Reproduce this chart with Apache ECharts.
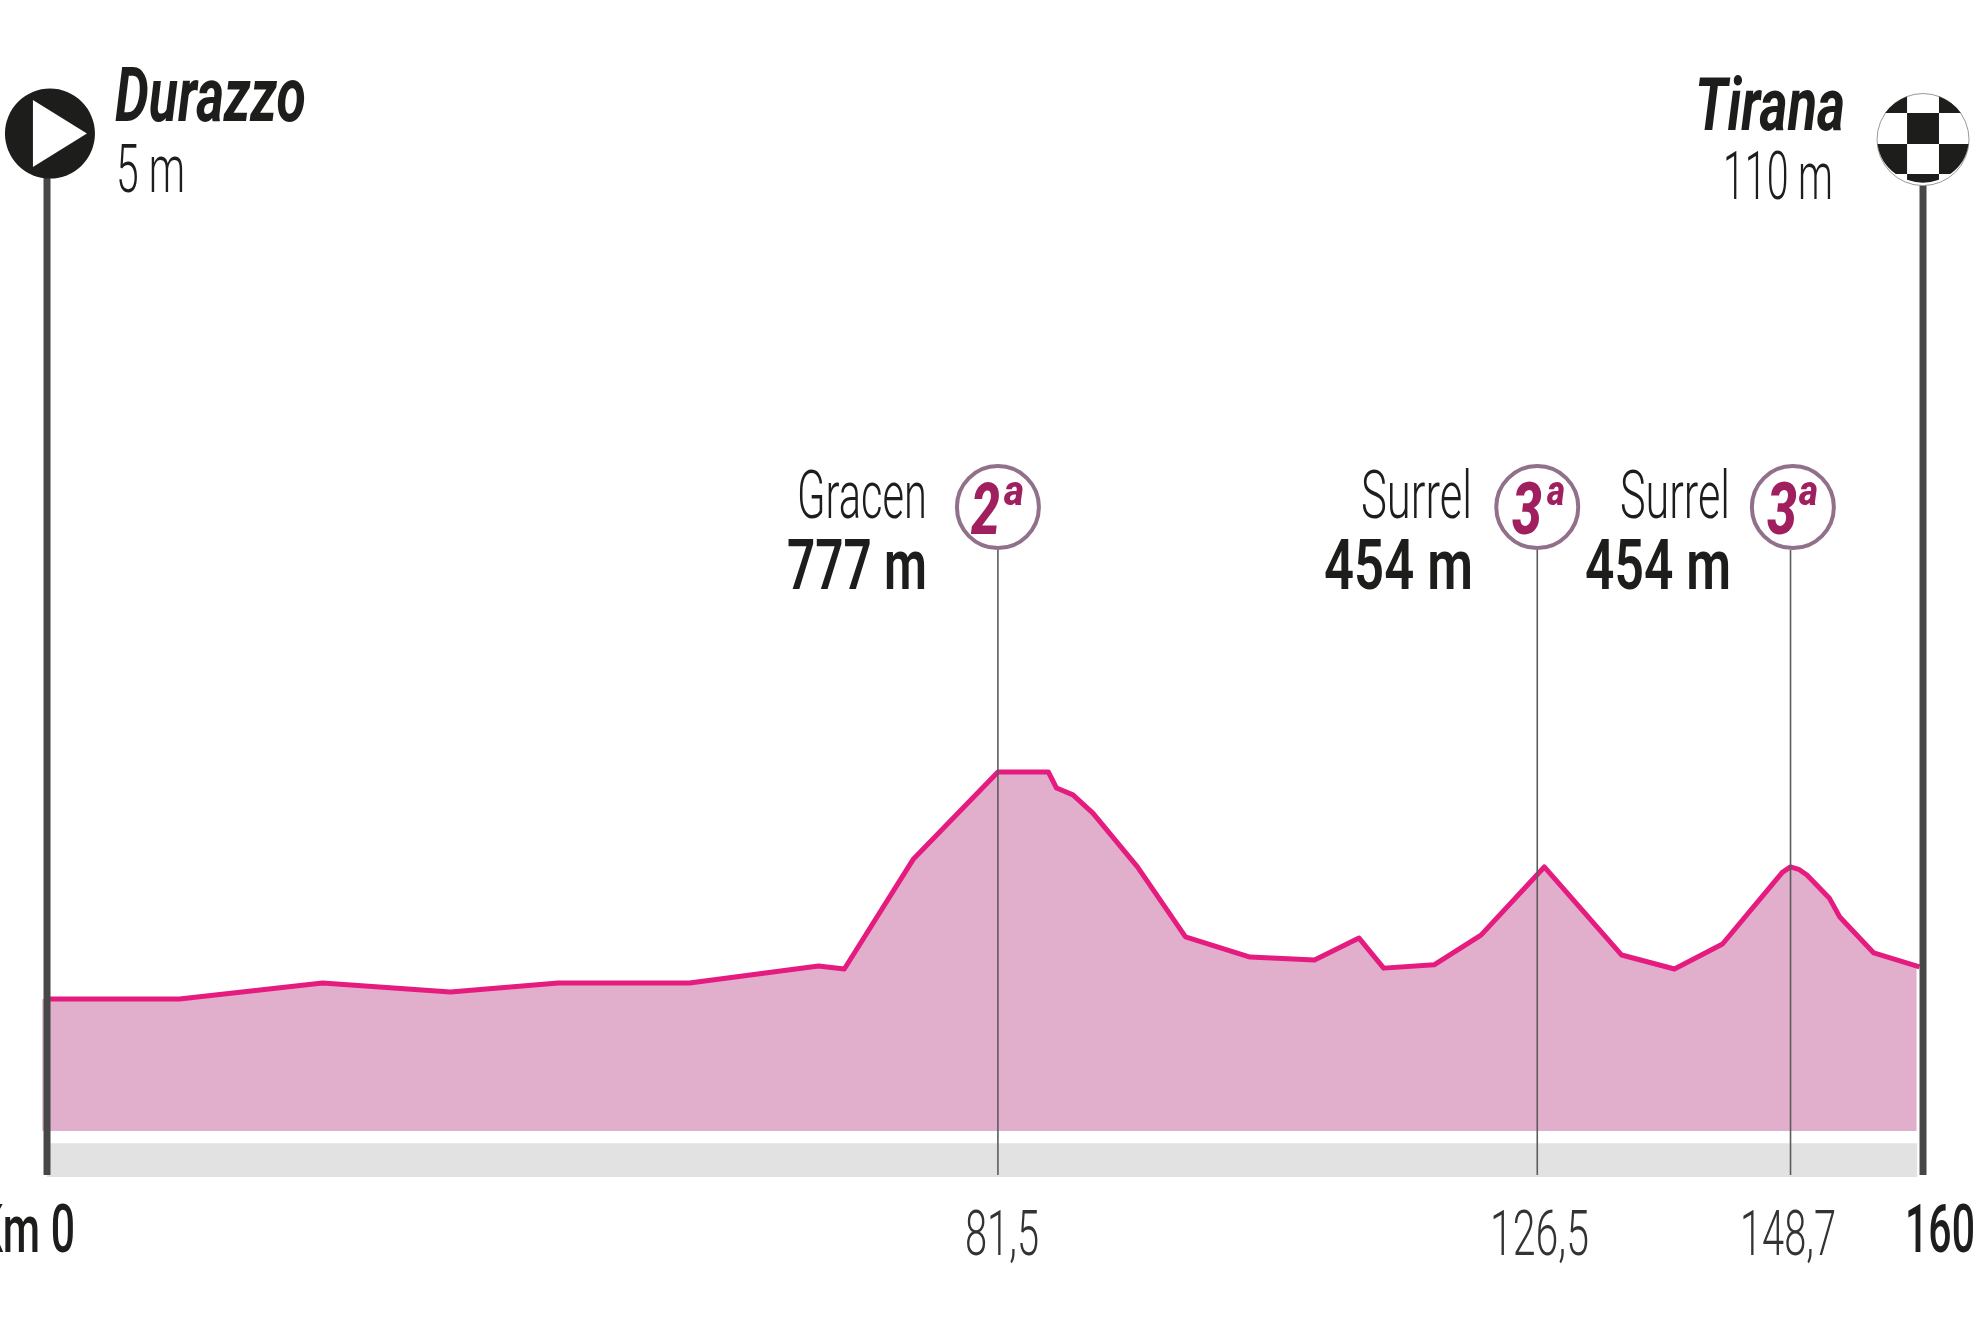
<!DOCTYPE html>
<html>
<head>
<meta charset="utf-8">
<title>Durazzo - Tirana</title>
<script src="https://cdn.jsdelivr.net/npm/echarts@6/dist/echarts.min.js"></script>
<style>
    html, body { margin: 0; padding: 0; background: #fff; overflow: hidden; }
    #chart { width: 1980px; height: 1320px; }
</style>
</head>
<body>
<div id="chart"></div>
<script>
// stage profile, km / altitude
var profileKm = [0, 11.3, 23.5, 34.4, 43.6, 54.8, 65.8, 68.0, 73.9, 81.1, 85.4, 86.1, 87.5, 89.2, 93.0, 97.1, 102.6,
    108.1, 111.9, 114.0, 118.3, 122.3, 127.7, 134.3, 138.8, 142.9, 148.0, 148.7, 149.4, 150.1, 152.0, 152.9, 155.8, 159.7];
var profileAlt = [14, 14, 68, 38, 68, 68, 125, 115, 485, 777, 777, 723, 700, 639, 458, 223, 155,
    145, 219, 118, 129, 229, 458, 162, 115, 199, 440, 458, 450, 431, 354, 290, 169, 122];

// climbs
var climbKm = [81.1, 127.1, 148.7];
var badgeKm = [81.1, 127.1, 148.9];
var climbNames = ['Gracen', 'Surrel', 'Surrel'];
var climbHeights = ['777 m', '454 m', '454 m'];
var climbCats = ['2', '3', '3'];
var climbTicks = ['81,5', '126,5', '148,7'];

var startName = 'Durazzo', startHeight = '5 m';
var finishName = 'Tirana', finishHeight = '110 m';
var totalKm = 160;

// vertical scale of the drawing, the axis fills the whole page
var axisKm = [-4.01, 164.86];
var axisAlt = [-1064.3, 3370.9];
var baseAlt = -429, bandTop = -470, bandBottom = -584;
var poleBottom = -577, climbTop = 1523, badgeAlt = 1667, poleTop = 2900;

var DARK = '#1d1d1b';
var measure = document.createElement('canvas').getContext('2d');

// real text squeezed between left and right, the reference uses a condensed face
function txt(str, left, right, baseline, size, weight, style, color) {
    var font = (style || 'normal') + ' ' + weight + ' ' + size + 'px Roboto';
    measure.font = font;
    return {
        type: 'text',
        x: left,
        y: baseline - 0.26 * size,
        scaleX: (right - left) / measure.measureText(str).width,
        z: 20,
        style: { text: str, font: font, fill: color || DARK, textAlign: 'left', textVerticalAlign: 'middle' }
    };
}

var texts = [
    txt(startName, 115, 306, 122, 76, 700, 'italic'),
    txt(startHeight, 116, 185, 193, 67, 300),
    txt(finishName, 1695, 1845, 131, 74, 700, 'italic'),
    txt(finishHeight, 1723, 1833, 200, 66, 300),
    txt(climbNames[0], 797, 927, 519, 67, 300),
    txt(climbHeights[0], 787, 927, 590, 70, 600),
    txt(climbNames[1], 1361, 1472, 519, 67, 300),
    txt(climbHeights[1], 1324, 1473, 590, 70, 600),
    txt(climbNames[2], 1620, 1730, 519, 67, 300),
    txt(climbHeights[2], 1585, 1731, 590, 70, 600),
    txt(climbCats[0], 971, 1000, 535, 72, 800, 'italic', '#a01f5e'),
    txt('a', 1004, 1024, 505, 42, 800, 'italic', '#a01f5e'),
    txt(climbCats[1], 1512, 1542, 535, 72, 800, 'italic', '#a01f5e'),
    txt('a', 1547, 1565, 505, 42, 800, 'italic', '#a01f5e'),
    txt(climbCats[2], 1767, 1797, 535, 72, 800, 'italic', '#a01f5e'),
    txt('a', 1799, 1818, 505, 42, 800, 'italic', '#a01f5e'),
    txt('Km 0', -24, 75, 1253, 67, 500),
    txt(String(totalKm), 1905, 1975, 1253, 67, 500),
    txt(climbTicks[0], 965, 1039, 1256, 63, 300, 'normal', '#333'),
    txt(climbTicks[1], 1490, 1589, 1256, 63, 300, 'normal', '#333'),
    txt(climbTicks[2], 1740, 1836, 1256, 63, 300, 'normal', '#333')
];

var profile = profileKm.map(function (km, i) { return [km, profileAlt[i]]; });
// the fill pokes out behind the start pole and stops a bit short of the finish pole
var fillData = [[-0.4, profileAlt[0]]].concat(profile.slice(0, -1), [[159.45, 129]]);

// thin lines under the category badges
var climbLines = climbKm.map(function (km) {
    return {
        type: 'line', data: [[km, climbTop], [km, poleBottom]], symbol: 'none', silent: true, z: 6,
        lineStyle: { color: '#5c5c5c', width: 1.6 }
    };
});

// two heavy poles at start and finish
var poles = [0, totalKm].map(function (km) {
    return {
        type: 'line', data: [[km, poleTop], [km, poleBottom]], symbol: 'none', silent: true, z: 7,
        lineStyle: { color: '#474747', width: 7 }
    };
});

var checkerPath = 'path://M-37.9 -26A46 46 0 0 1 -16 -43.1L-16 -26ZM37.9 -26A46 46 0 0 0 16 -43.1L16 -26Z' +
    'M-16 -26L16 -26L16 6L-16 6Z' +
    'M-45.6 6L-16 6L-16 37L-27.3 37A46 46 0 0 1 -45.6 6ZM45.6 6L16 6L16 37L27.3 37A46 46 0 0 0 45.6 6Z' +
    'M-16 37L16 37L16 43.1A46 46 0 0 1 -16 43.1Z';

var chart = echarts.init(document.getElementById('chart'));
chart.setOption({
    animation: false,
    backgroundColor: '#fff',
    grid: { left: 0, right: 0, top: 0, bottom: 0 },
    xAxis: { type: 'value', min: axisKm[0], max: axisKm[1], show: false },
    yAxis: { type: 'value', min: axisAlt[0], max: axisAlt[1], show: false },
    graphic: texts,
    series: [
        {
            type: 'line',
            data: fillData,
            symbol: 'none',
            z: 4,
            lineStyle: { width: 0 },
            areaStyle: { color: '#e1aecb', opacity: 1, origin: baseAlt },
            markArea: {
                silent: true,
                itemStyle: { color: '#e2e2e2' },
                data: [[{ coord: [0, bandTop] }, { coord: [159.5, bandBottom] }]]
            }
        },
        {
            type: 'line',
            data: profile,
            symbol: 'none',
            z: 5,
            lineStyle: { color: '#e61b80', width: 5, join: 'round' }
        }
    ].concat(climbLines, poles, [
        {
            // category badges
            type: 'scatter', z: 10, symbol: 'circle', symbolSize: 82, silent: true,
            itemStyle: { color: '#fff', borderColor: '#91708a', borderWidth: 4, opacity: 1 },
            data: badgeKm.map(function (km) { return [km, badgeAlt]; })
        },
        {
            type: 'scatter', z: 10, symbol: 'circle', symbolSize: 90, silent: true,
            itemStyle: { color: DARK, opacity: 1 }, data: [[0.25, 2922]]
        },
        {
            type: 'scatter', z: 11, symbol: 'path://M0 0L54 33.5L0 67Z', symbolSize: [54, 67], silent: true,
            itemStyle: { color: '#fff', opacity: 1 }, data: [[1.1, 2922]]
        },
        {
            type: 'scatter', z: 10, symbol: 'circle', symbolSize: 92, silent: true,
            itemStyle: { color: '#fff', borderColor: '#999', borderWidth: 1, opacity: 1 }, data: [[totalKm, 2902]]
        },
        {
            type: 'scatter', z: 11, symbol: checkerPath, symbolSize: [91, 86.2], silent: true,
            itemStyle: { color: DARK, opacity: 1 }, data: [[totalKm, 2902]]
        }
    ])
});
</script>
</body>
</html>
